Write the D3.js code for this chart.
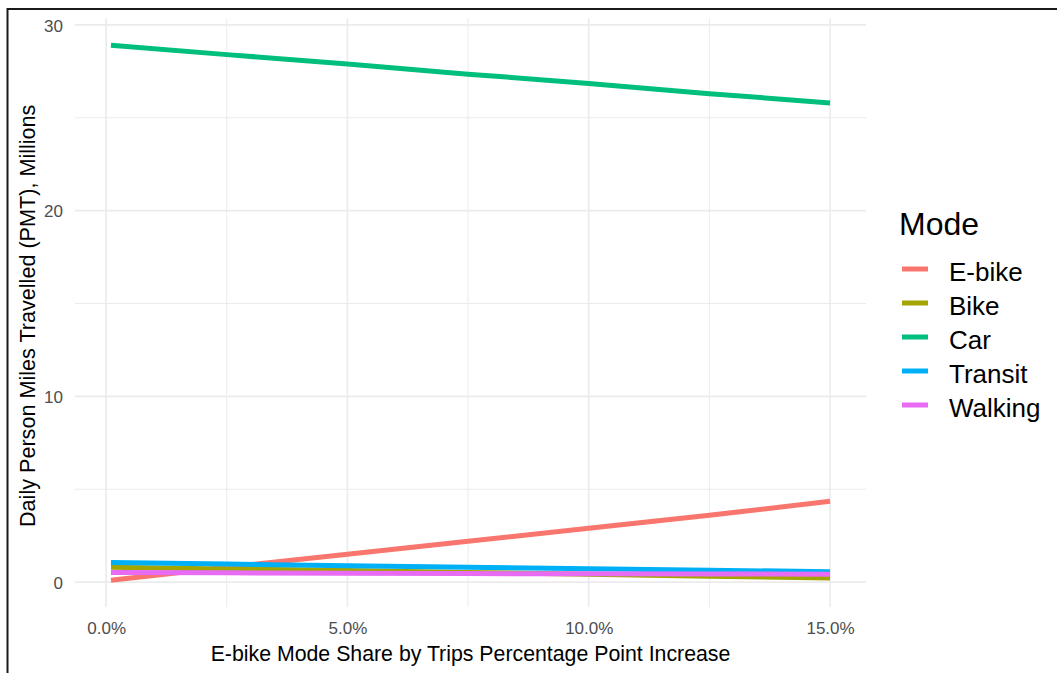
<!DOCTYPE html>
<html>
<head>
<meta charset="utf-8">
<script src="https://cdn.jsdelivr.net/npm/d3@7"></script>
<style>
  html, body { margin: 0; padding: 0; background: #fff; }
  svg { display: block; font-family: "Liberation Sans", Arial, sans-serif; }
</style>
</head>
<body>
<svg id="chart" width="1057" height="673"></svg>
<script>
// ---- data ----
const modes = ["E-bike", "Bike", "Car", "Transit", "Walking"];
const colors = ["#F8766D", "#A3A500", "#00BF7D", "#00B0F6", "#E76BF3"];
const shareIncrease = [0.1, 2.5, 5, 7.5, 10, 12.5, 15];   // percent
const ebikePMT   = [0.10, 0.80, 1.50, 2.20, 2.90, 3.60, 4.35];
const bikePMT    = [0.80, 0.71, 0.62, 0.52, 0.42, 0.32, 0.22];
const carPMT     = [28.90, 28.40, 27.90, 27.35, 26.85, 26.30, 25.80];
const transitPMT = [1.05, 0.97, 0.88, 0.80, 0.72, 0.64, 0.56];
const walkingPMT = [0.52, 0.50, 0.48, 0.46, 0.45, 0.44, 0.43];
const xTicks = [0, 5, 10, 15];
const xMinor = [2.5, 7.5, 12.5];
const yTicks = [0, 10, 20, 30];
const yMinor = [5, 15, 25];
const xTitle = "E-bike Mode Share by Trips Percentage Point Increase";
const yTitle = "Daily Person Miles Travelled (PMT), Millions";
const legendTitle = "Mode";

const seriesValues = [ebikePMT, bikePMT, carPMT, transitPMT, walkingPMT];
const series = modes.map((m, i) => ({
  mode: m, color: colors[i],
  points: shareIncrease.map((x, j) => ({ x: x, y: seriesValues[i][j] }))
}));

// ---- layout ----
const svg = d3.select("#chart");
const panel = { left: 75, right: 866, top: 18.6, bottom: 607 };

const x = d3.scaleLinear().domain([-0.645, 15.745]).range([panel.left, panel.right]);
const y = d3.scaleLinear().domain([-1.34, 30.34]).range([panel.bottom, panel.top]);

// frame (left/top border of the screenshot)
svg.append("rect")
  .attr("x", 7.5).attr("y", 9).attr("width", 1100).attr("height", 700)
  .attr("fill", "none").attr("stroke", "#1a1a1a").attr("stroke-width", 2);

const grid = svg.append("g");
// minor grid
grid.selectAll(".ymin").data(yMinor).join("line")
  .attr("x1", panel.left).attr("x2", panel.right)
  .attr("y1", d => y(d)).attr("y2", d => y(d))
  .attr("stroke", "#EBEBEB").attr("stroke-width", 1);
grid.selectAll(".xmin").data(xMinor).join("line")
  .attr("y1", panel.top).attr("y2", panel.bottom)
  .attr("x1", d => x(d)).attr("x2", d => x(d))
  .attr("stroke", "#EBEBEB").attr("stroke-width", 1);
// major grid
grid.selectAll(".ymaj").data(yTicks).join("line")
  .attr("x1", panel.left).attr("x2", panel.right)
  .attr("y1", d => y(d)).attr("y2", d => y(d))
  .attr("stroke", "#EBEBEB").attr("stroke-width", 1.6);
grid.selectAll(".xmaj").data(xTicks).join("line")
  .attr("y1", panel.top).attr("y2", panel.bottom)
  .attr("x1", d => x(d)).attr("x2", d => x(d))
  .attr("stroke", "#EBEBEB").attr("stroke-width", 1.6);

// lines
const line = d3.line().x(d => x(d.x)).y(d => y(d.y));
svg.append("g").selectAll("path").data(series).join("path")
  .attr("d", d => line(d.points))
  .attr("fill", "none")
  .attr("stroke", d => d.color)
  .attr("stroke-width", 5)
  .attr("stroke-linecap", "butt");

// axes (tick labels only, like theme_minimal)
const xAxis = d3.axisBottom(x).tickValues(xTicks)
  .tickFormat(d => d.toFixed(1) + "%").tickSize(0).tickPadding(0);
const gx = svg.append("g").attr("transform", `translate(0,${panel.bottom})`).call(xAxis);
gx.select(".domain").remove();
gx.selectAll("text").attr("font-size", 17).attr("fill", "#4D4D4D")
  .attr("font-family", "Liberation Sans, Arial, sans-serif")
  .attr("dy", null).attr("y", 27);

const yAxis = d3.axisLeft(y).tickValues(yTicks).tickSize(0).tickPadding(0);
const gy = svg.append("g").attr("transform", `translate(63,0)`).call(yAxis);
gy.select(".domain").remove();
gy.selectAll("text").attr("font-size", 17).attr("fill", "#4D4D4D")
  .attr("font-family", "Liberation Sans, Arial, sans-serif")
  .attr("x", 0).attr("dy", "0.36em");

// axis titles
svg.append("text")
  .attr("x", (panel.left + panel.right) / 2).attr("y", 661)
  .attr("text-anchor", "middle").attr("font-size", 21.3).attr("fill", "#000")
  .text(xTitle);
svg.append("text")
  .attr("transform", `translate(35,${(panel.top + panel.bottom) / 2 + 3}) rotate(-90)`)
  .attr("text-anchor", "middle").attr("font-size", 21.6).attr("fill", "#000")
  .text(yTitle);

// legend
const lg = svg.append("g");
lg.append("text").attr("x", 899).attr("y", 235)
  .attr("font-size", 32).attr("fill", "#000").text(legendTitle);
const items = lg.selectAll(".item").data(series).join("g")
  .attr("transform", (d, i) => `translate(0,${269 + i * 34})`);
items.append("line").attr("x1", 902).attr("x2", 928).attr("y1", 0).attr("y2", 0)
  .attr("stroke", d => d.color).attr("stroke-width", 5);
items.append("text").attr("x", 949).attr("y", 12)
  .attr("font-size", 26).attr("fill", "#000").text(d => d.mode);
</script>
</body>
</html>
